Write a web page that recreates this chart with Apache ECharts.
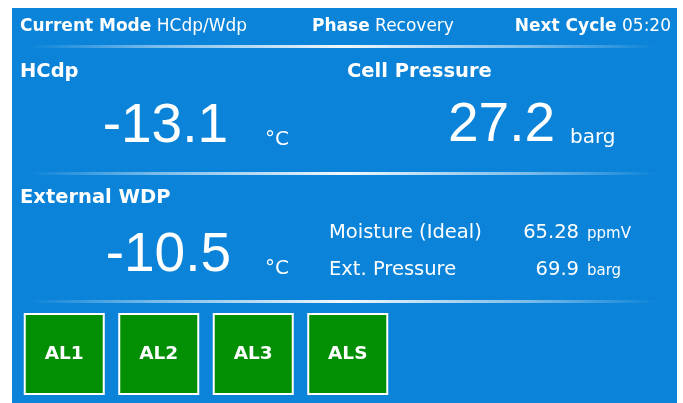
<!DOCTYPE html>
<html>
<head>
<meta charset="utf-8">
<script src="https://cdn.jsdelivr.net/npm/echarts@6/dist/echarts.min.js"></script>
<style>
html,body{margin:0;padding:0;background:#fff;}
#main{width:683px;height:403px;}
</style>
</head>
<body>
<div id="main"></div>
<script>
// ---- data ----
var headerLabels = ['Current Mode', 'Phase', 'Next Cycle'];
var headerValues = ['HCdp/Wdp', 'Recovery', '05:20'];
var mainTitles = ['HCdp', 'Cell Pressure', 'External WDP'];
var mainValues = ['-13.1', '27.2', '-10.5'];
var mainUnits = ['°C', 'barg', '°C'];
var sideLabels = ['Moisture (Ideal)', 'Ext. Pressure'];
var sideValues = ['65.28', '69.9'];
var sideUnits = ['ppmV', 'barg'];
var alarmNames = ['AL1', 'AL2', 'AL3', 'ALS'];
var alarmStates = [1, 1, 1, 1];

var BLUE = '#0a83d8';
var GREEN = '#038f03';
var LABEL_FONT = 'DejaVu Sans';
var NUM_FONT = 'Liberation Sans';

function sep(y) {
  return {
    type: 'rect', shape: {x: 28, y: y, width: 630, height: 3}, silent: true,
    style: {
      fill: new echarts.graphic.LinearGradient(0, 0, 1, 0, [
        {offset: 0, color: 'rgba(255,255,255,0)'},
        {offset: 0.2, color: 'rgba(255,255,255,0.45)'},
        {offset: 0.5, color: 'rgba(255,255,255,0.95)'},
        {offset: 0.8, color: 'rgba(255,255,255,0.45)'},
        {offset: 1, color: 'rgba(255,255,255,0)'}
      ])
    }
  };
}

function headerText(i, x, align) {
  return {
    type: 'text', x: x, y: 27,
    style: {
      text: '{b|' + headerLabels[i] + '}{r| ' + headerValues[i] + '}',
      align: align, verticalAlign: 'middle',
      rich: {
        b: {fontFamily: LABEL_FONT, fontWeight: 'bold', fontSize: 17, fill: '#fff'},
        r: {fontFamily: LABEL_FONT, fontWeight: 'normal', fontSize: 17, fill: '#fff'}
      }
    }
  };
}

function title(i, x, y) {
  return {
    type: 'text', x: x, y: y,
    style: {text: mainTitles[i], fill: '#fff', font: 'bold 19.5px "' + LABEL_FONT + '"', verticalAlign: 'middle'}
  };
}

function bigValue(i, x, cy) {
  return {
    type: 'text', x: x, y: cy,
    style: {text: mainValues[i], fill: '#fff', font: '55px "' + NUM_FONT + '"', align: 'right', verticalAlign: 'middle'}
  };
}

function unit(i, x, cy) {
  return {
    type: 'text', x: x, y: cy,
    style: {text: mainUnits[i], fill: '#fff', font: '20px "' + LABEL_FONT + '"', verticalAlign: 'middle'}
  };
}

function sideRow(i, cy) {
  return [
    {type: 'text', x: 329, y: cy,
      style: {text: sideLabels[i], fill: '#fff', font: '19.5px "' + LABEL_FONT + '"', verticalAlign: 'middle'}},
    {type: 'text', x: 579, y: cy,
      style: {text: sideValues[i], fill: '#fff', font: '19.5px "' + LABEL_FONT + '"', align: 'right', verticalAlign: 'middle'}},
    {type: 'text', x: 587, y: cy + 1,
      style: {text: sideUnits[i], fill: '#fff', font: '15px "' + LABEL_FONT + '"', verticalAlign: 'middle'}}
  ];
}

var graphics = [
  {type: 'rect', shape: {x: 12, y: 8, width: 665, height: 395}, style: {fill: BLUE}, z: -10, silent: true},
  headerText(0, 20, 'left'),
  headerText(1, 312, 'left'),
  headerText(2, 671, 'right'),
  sep(45),
  title(0, 20, 72),
  title(1, 347, 72),
  bigValue(0, 228, 127),
  unit(0, 265, 140),
  bigValue(1, 555, 126),
  unit(1, 570, 138),
  sep(172),
  title(2, 20, 198),
  bigValue(2, 231, 256),
  unit(2, 265, 269),
  sep(300)
].concat(sideRow(0, 233), sideRow(1, 270));

var chart = echarts.init(document.getElementById('main'), null, {renderer: 'canvas'});
chart.setOption({
  animation: false,
  backgroundColor: '#ffffff',
  graphic: {elements: graphics},
  grid: {left: 17, width: 378, top: 313, height: 82},
  xAxis: {type: 'category', data: alarmNames, show: false},
  yAxis: {type: 'value', min: 0, max: 1, show: false},
  series: [{
    type: 'bar',
    data: alarmStates,
    barWidth: 81,
    itemStyle: {color: GREEN, borderColor: '#ffffff', borderWidth: 2},
    label: {
      show: true, position: 'inside', formatter: '{b}',
      color: '#fff', fontFamily: LABEL_FONT, fontWeight: 'bold', fontSize: 18.5,
      textBorderWidth: 0
    },
    z: 5
  }]
});
</script>
</body>
</html>
